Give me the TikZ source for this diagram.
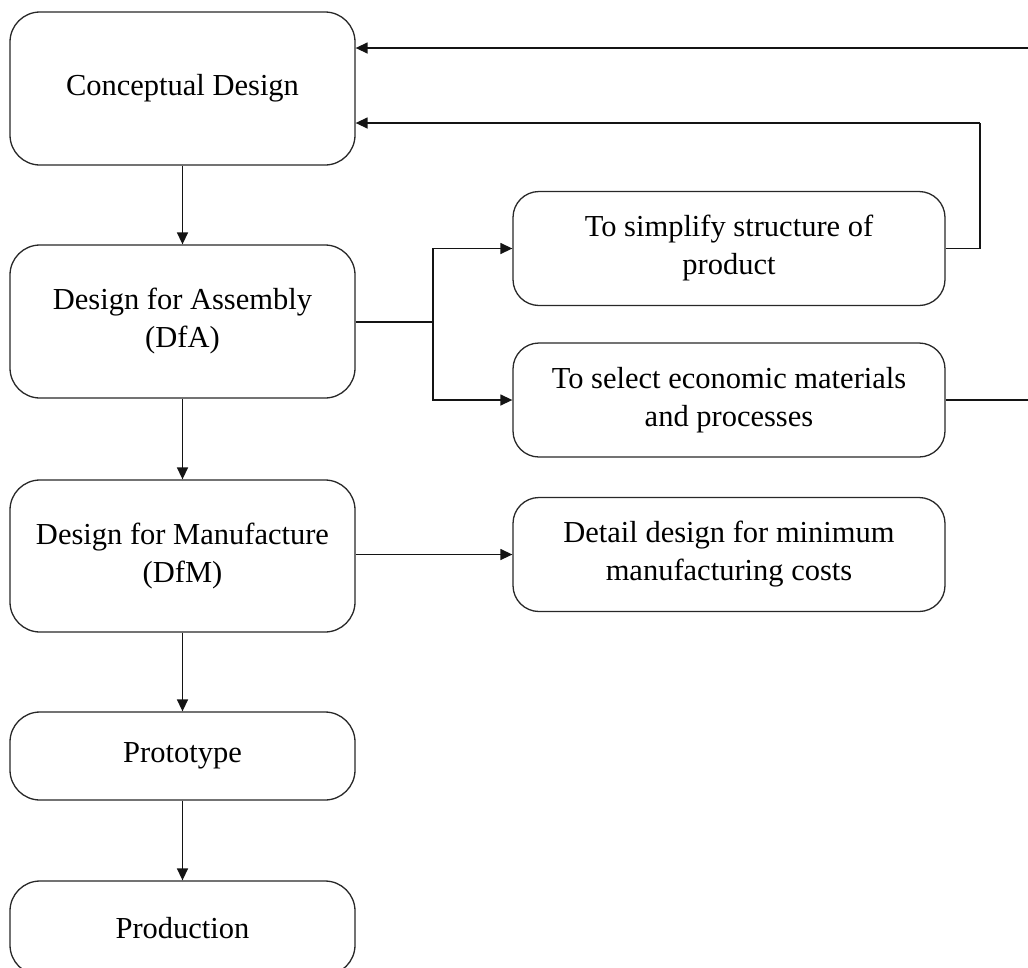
\documentclass[tikz,border=0pt]{standalone}
\usepackage{fontspec}
\setmainfont{Liberation Serif}
\usepackage{xcolor}
\definecolor{BoxBorder}{RGB}{40,40,40}
\definecolor{FlowColor}{RGB}{20,20,20}
\usepackage{tikz}
\usetikzlibrary{
  positioning,
  arrows.meta,
  calc
}
\tikzset{
  % Stage of the main chain
  stage/.style={
    rectangle,
    rounded corners=30pt,
    draw=BoxBorder,
    line width=1.3pt,
    fill=white,
    minimum width=345pt,
    inner sep=0pt,
    align=center,
    font=\fontsize{30.5}{38}\selectfont
  },
  % Goal box on the right
  goal/.style={
    rectangle,
    rounded corners=26pt,
    draw=BoxBorder,
    line width=1.3pt,
    fill=white,
    minimum width=432pt,
    minimum height=114pt,
    inner sep=0pt,
    align=center,
    font=\fontsize{30.5}{38}\selectfont
  },
  % Plain line
  link/.style={
    draw=FlowColor,
    line width=1.4pt
  },
  % Line with arrow
  flow/.style={
    draw=FlowColor,
    line width=1.4pt,
    -{Triangle[length=12pt,width=11pt]}
  }
}

\begin{document}
\begin{tikzpicture}[x=1pt,y=-1pt]
  \useasboundingbox (0,0) rectangle (1028,967);

  % Main chain
  \node[stage, minimum height=153pt] (concept) at (182.5,88.5) {Conceptual Design};
  \node[stage, minimum height=153pt] (dfa) at (182.5,321.5) {Design for Assembly\\(DfA)};
  \node[stage, minimum height=152pt] (dfm) at (182.5,556) {Design for Manufacture\\(DfM)};
  \node[stage, minimum height=88pt] (proto) at (182.5,756) {Prototype};
  \node[stage, minimum height=94pt] (prod) at (182.5,928) {Production};

  % Goals
  \node[goal] (simplify) at (729,248.5) {To simplify structure of\\product};
  \node[goal] (select) at (729,400) {To select economic materials\\and processes};
  \node[goal] (detail) at (729,554.5) {Detail design for minimum\\manufacturing costs};

  % Helper points
  \coordinate (branch) at (433,322);
  \coordinate (loopcorner) at (980,123);
  \coordinate (topin) at (1030,48);
  \coordinate (selout) at (1030,400);

  % Downward flow
  \draw[flow] (concept) -- (dfa);
  \draw[flow] (dfa) -- (dfm);
  \draw[flow] (dfm) -- (proto);
  \draw[flow] (proto) -- (prod);

  % DfA to goals
  \draw[link] (dfa.east |- branch) -- (branch);
  \draw[flow] (branch) |- (simplify.west);
  \draw[flow] (branch) |- (select.west);

  % DfM to detail
  \draw[flow] (dfm.east |- detail.west) -- (detail.west);

  % Feedback
  \draw[link] (simplify.east) -| (loopcorner);
  \draw[flow] (loopcorner) -- (concept.east |- loopcorner);
  \draw[flow] (topin) -- (concept.east |- topin);
  \draw[link] (select.east) -- (selout);
\end{tikzpicture}
\end{document}
